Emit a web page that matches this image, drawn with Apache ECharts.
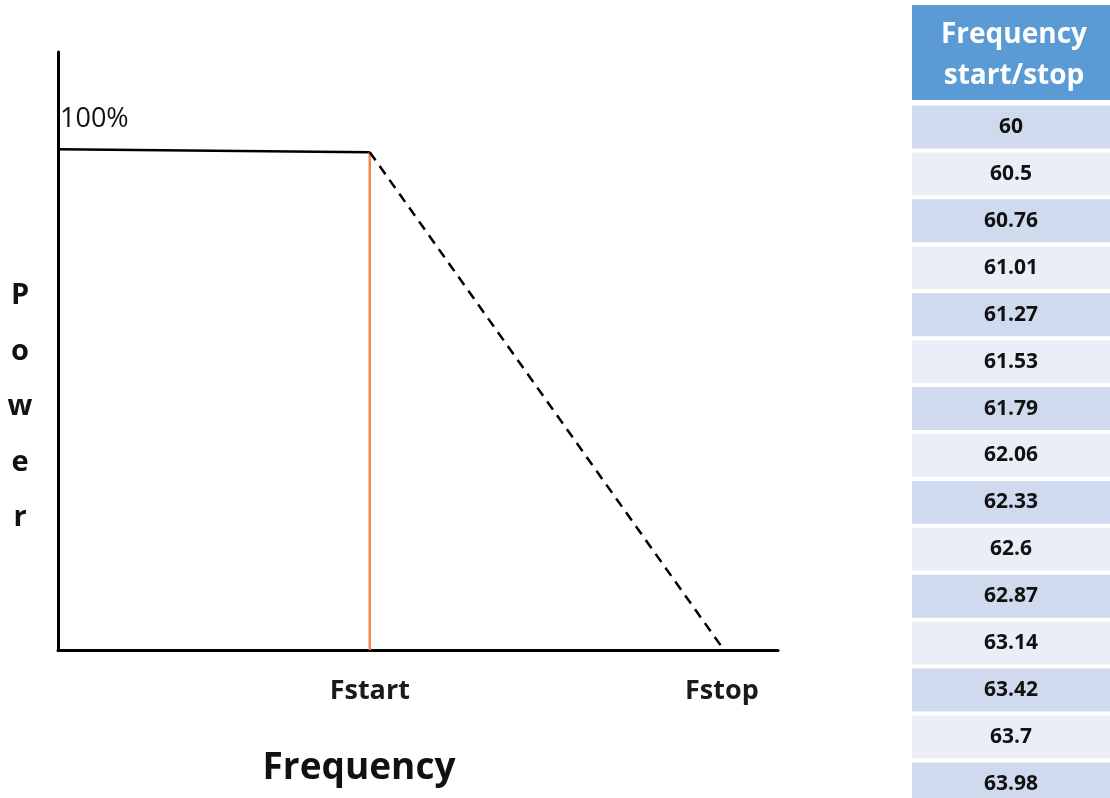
<!DOCTYPE html>
<html>
<head>
<meta charset="utf-8">
<script src="https://cdn.jsdelivr.net/npm/echarts@6/dist/echarts.min.js"></script>
<style>
html,body{margin:0;padding:0;background:#fff;}
#c{width:1110px;height:798px;}
</style>
</head>
<body>
<div id="c"></div>
<script>
// ---- data ----
var fStart = 43.3;   // position of Fstart on the frequency axis (0..100)
var fStop = 92.2;    // position of Fstop
var flatLine = [[0, 100], [fStart, 99.4]];
var startLine = [[fStart, 0], [fStart, 99.4]];
var rampLine = [[fStart, 99.4], [fStop, 0.6]];
var xTickValues = [fStart, fStop];
var xTickLabels = ['Fstart', 'Fstop'];
var topLabel = '100%';
var tableHeader = 'Frequency\nstart/stop';
var freqValues = ['60', '60.5', '60.76', '61.01', '61.27', '61.53', '61.79', '62.06',
  '62.33', '62.6', '62.87', '63.14', '63.42', '63.7', '63.98'];

var FONT = '"Open Sans", "DejaVu Sans", sans-serif';
var chart = echarts.init(document.getElementById('c'));

var ROW_COLORS = ['#CFDAEE', '#E9EEF7'];
var rows = freqValues.map(function (v, i) { return [i, v]; });

chart.setOption({
  animation: false,
  backgroundColor: '#ffffff',
  grid: [
    { left: 58, width: 720, top: 52, bottom: 148 },
    { left: 912, width: 198, top: 103.5, height: 694.5 }
  ],
  xAxis: [
    {
      gridIndex: 0, type: 'value', min: 0, max: 100,
      axisLine: { show: true, lineStyle: { color: '#000', width: 3 } },
      axisTick: { show: false },
      splitLine: { show: false },
      axisLabel: {
        show: true,
        customValues: xTickValues,
        margin: 28,
        fontFamily: FONT, fontSize: 27, fontWeight: 'bold', color: '#1a1a1a',
        formatter: function (v) {
          for (var i = 0; i < xTickValues.length; i++) {
            if (Math.abs(v - xTickValues[i]) < 1e-6) return xTickLabels[i];
          }
          return '';
        }
      }
    },
    { gridIndex: 1, type: 'value', min: 0, max: 1, show: false }
  ],
  yAxis: [
    {
      gridIndex: 0, type: 'value', min: 0, max: 119.4,
      axisLine: { show: true, lineStyle: { color: '#000', width: 3 } },
      axisTick: { show: false },
      axisLabel: { show: false },
      splitLine: { show: false }
    },
    // rows of 46.93px: the last row is cut by the bottom edge, as in the picture
    { gridIndex: 1, type: 'value', inverse: true, min: -0.5, max: 14.3, show: false }
  ],
  series: [
    {
      type: 'line', xAxisIndex: 0, yAxisIndex: 0, data: [
        { value: flatLine[0], label: {
          show: true, formatter: topLabel, position: 'top', align: 'left',
          distance: 16, offset: [2, 0],
          fontFamily: FONT, fontSize: 27, fontWeight: 500, color: '#111'
        } },
        flatLine[1]
      ],
      symbol: 'circle', symbolSize: 0, showSymbol: true,
      lineStyle: { color: '#000', width: 2.5 }, silent: true
    },
    {
      type: 'line', xAxisIndex: 0, yAxisIndex: 0, data: startLine,
      symbol: 'none', lineStyle: { color: '#F08A4B', width: 2.5 }, silent: true
    },
    {
      type: 'line', xAxisIndex: 0, yAxisIndex: 0, data: rampLine,
      symbol: 'none', lineStyle: { color: '#000', width: 2.5, type: [10, 7] }, silent: true
    },
    {
      type: 'custom', xAxisIndex: 1, yAxisIndex: 1, data: rows, silent: true,
      encode: { y: 0 },
      renderItem: function (params, api) {
        var idx = api.value(0);
        var p0 = api.coord([0, idx - 0.5]);
        var p1 = api.coord([1, idx + 0.5]);
        var gap = 4;
        var y = p0[1] + gap / 2, h = p1[1] - p0[1] - gap;
        return {
          type: 'rect',
          shape: { x: p0[0], y: y, width: p1[0] - p0[0], height: h },
          style: { fill: ROW_COLORS[idx % 2] },
          textContent: {
            style: {
              text: rows[idx][1], fill: '#111',
              font: 'bold 21px ' + FONT
            }
          },
          textConfig: { position: 'inside' }
        };
      }
    }
  ],
  graphic: [
    { type: 'rect', shape: { x: 912, y: 5, width: 198, height: 95 }, style: { fill: '#5B9BD5' }, silent: true },
    { type: 'text', x: 1014, y: 56, style: {
      text: tableHeader, fill: '#fff', font: 'bold 28px ' + FONT,
      align: 'center', verticalAlign: 'middle', lineHeight: 41
    }, silent: true },
    { type: 'text', x: 20, y: 407, style: {
      text: 'P\no\nw\ne\nr', fill: '#111', font: 'bold 29px ' + FONT,
      align: 'center', verticalAlign: 'middle', lineHeight: 55.5
    }, silent: true },
    { type: 'text', x: 359, y: 768, style: {
      text: 'Frequency', fill: '#111', font: 'bold 37px ' + FONT,
      align: 'center', verticalAlign: 'middle'
    }, silent: true }
  ]
});
</script>
</body>
</html>
